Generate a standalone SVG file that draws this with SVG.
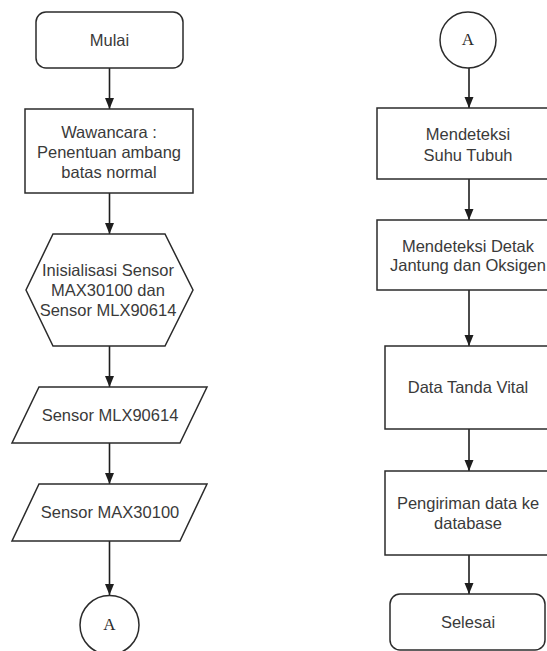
<svg xmlns="http://www.w3.org/2000/svg" width="547" height="651" viewBox="0 0 547 651">
<defs>
<style>
.s{fill:#fff;stroke:#2b2b2b;stroke-width:1.5}
.t{font-family:"Liberation Sans",Arial,sans-serif;font-size:16.5px;fill:#3a3a3a;text-anchor:middle}
.a{font-family:"Liberation Serif","Times New Roman",serif;font-size:17px;fill:#2b2b2b;text-anchor:middle}
.c{stroke:#1e1e1e;stroke-width:1.6;fill:none;marker-end:url(#ah)}
</style>
<marker id="ah" markerUnits="userSpaceOnUse" markerWidth="12" markerHeight="12" viewBox="0 0 12 12" refX="11" refY="6" orient="auto">
<path d="M0,1.5 L11,6 L0,10.5 Z" fill="#1e1e1e"/>
</marker>
</defs>
<rect width="547" height="651" fill="#fff"/>
<g id="connectors">
<line class="c" x1="109.5" y1="68" x2="109.5" y2="109"/>
<line class="c" x1="109.5" y1="193" x2="109.5" y2="234"/>
<line class="c" x1="109.5" y1="346" x2="109.5" y2="387"/>
<line class="c" x1="109.5" y1="443" x2="109.5" y2="484"/>
<line class="c" x1="109.5" y1="541" x2="109.5" y2="595"/>
<line class="c" x1="469" y1="68" x2="469" y2="108"/>
<line class="c" x1="469" y1="179" x2="469" y2="220"/>
<line class="c" x1="469" y1="290" x2="469" y2="346"/>
<line class="c" x1="469" y1="429" x2="469" y2="471"/>
<line class="c" x1="469" y1="555" x2="469" y2="594"/>
</g>
<g id="mulai">
<rect class="s" x="36" y="12" width="147" height="56" rx="10"/>
<text class="t" x="109.5" y="46">Mulai</text>
</g>
<g id="wawancara">
<rect class="s" x="25" y="109" width="168" height="84"/>
<text class="t" x="109" y="138">Wawancara :</text>
<text class="t" x="109" y="158">Penentuan ambang</text>
<text class="t" x="109" y="178">batas normal</text>
</g>
<g id="inisialisasi">
<polygon class="s" points="53,234 165,234 193,290 165,346 53,346 26,290"/>
<text class="t" x="108" y="276">Inisialisasi Sensor</text>
<text class="t" x="108" y="296">MAX30100 dan</text>
<text class="t" x="108" y="316">Sensor MLX90614</text>
</g>
<g id="mlx">
<polygon class="s" points="39,387 207,387 180,443 12,443"/>
<text class="t" x="110" y="421">Sensor MLX90614</text>
</g>
<g id="max">
<polygon class="s" points="39,484 207,484 180,541 12,541"/>
<text class="t" x="110" y="518">Sensor MAX30100</text>
</g>
<g id="connA1">
<circle class="s" cx="109.5" cy="625" r="29.5"/>
<text class="a" x="109.5" y="630">A</text>
</g>
<g id="connA2">
<circle class="s" cx="468" cy="40" r="28"/>
<text class="a" x="468" y="45">A</text>
</g>
<g id="suhu">
<rect class="s" x="377" y="108" width="184" height="71"/>
<text class="t" x="468" y="140">Mendeteksi</text>
<text class="t" x="468" y="161">Suhu Tubuh</text>
</g>
<g id="detak">
<rect class="s" x="377" y="220" width="184" height="70"/>
<text class="t" x="468" y="252">Mendeteksi Detak</text>
<text class="t" x="468" y="271">Jantung dan Oksigen</text>
</g>
<g id="vital">
<rect class="s" x="385" y="346" width="170" height="83"/>
<text class="t" x="468" y="393">Data Tanda Vital</text>
</g>
<g id="pengiriman">
<rect class="s" x="385" y="471" width="170" height="84"/>
<text class="t" x="468" y="509">Pengiriman data ke</text>
<text class="t" x="468" y="529">database</text>
</g>
<g id="selesai">
<rect class="s" x="390" y="594" width="155" height="56" rx="10"/>
<text class="t" x="468" y="628">Selesai</text>
</g>
</svg>
